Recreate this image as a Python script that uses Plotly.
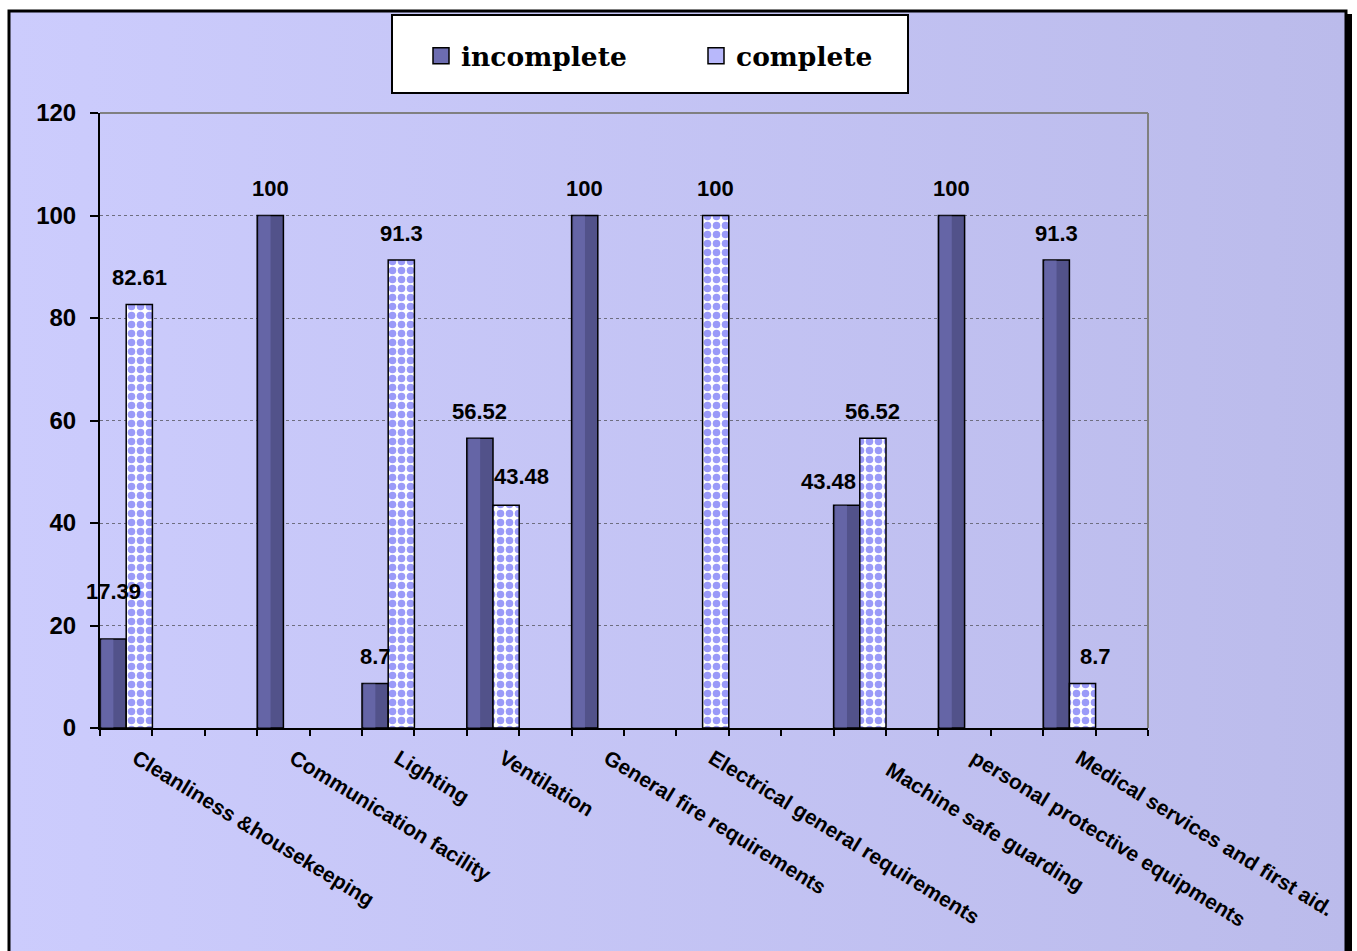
import base64
import plotly.graph_objects as go

# ---- data -------------------------------------------------------------
categories = [
    "Cleanliness &housekeeping",
    "Communication facility",
    "Lighting",
    "Ventilation",
    "General fire requirements",
    "Electrical general requirements",
    "Machine safe guarding",
    "personal protective equipments",
    "Medical services and first aid.",
]
incomplete = [17.39, 100, 8.7, 56.52, 100, 0, 43.48, 100, 91.3]
complete = [82.61, 0, 91.3, 43.48, 0, 100, 56.52, 0, 8.7]
y_ticks = [0, 20, 40, 60, 80, 100, 120]

# ---- layout helpers ---------------------------------------------------
W, H = 1357, 951
L, R, T, B = 100, 1148, 113, 728          # plot area edges in pixels
SLOTS = [0, 3, 5, 7, 9, 11, 14, 16, 18]   # slot of each category on the axis
N_SLOTS = 20
BAR_W = 0.5                                # each bar fills half a slot
LABEL_INDENT = {6: 4}                      # leading spaces before some axis labels


def px(x):
    return (x - L) / (R - L)


def py(y):
    return (B - y) / (B - T)


def nonzero(values):
    # zero-height bars are left out so they leave no outline on the axis
    return [v if v > 0 else None for v in values]


FONT = "Liberation Sans, Arial, sans-serif"
LEG_FONT = "DejaVu Serif, serif"
DARK = "#52528A"
CHECK = "#9A9AF8"

# value-label nudges (xshift, yshift) in pixels, keyed by (series, category)
NUDGE = {
    ("incomplete", 0): (0, 47),
    ("complete", 3): (15, 29),
    ("incomplete", 6): (-18, 24),
    ("complete", 8): (13, 27),
}

fig = go.Figure()

fig.add_trace(go.Bar(
    name="incomplete", showlegend=False,
    x=SLOTS, y=nonzero(incomplete), width=BAR_W, offset=-BAR_W,
    marker=dict(color=DARK, line=dict(color="black", width=1.5)),
))
# lighter sheen on the left part of each dark bar
fig.add_trace(go.Bar(
    name="incomplete", showlegend=False, hoverinfo="skip",
    x=SLOTS, y=nonzero(incomplete), width=BAR_W * 0.45, offset=-BAR_W + 0.03,
    marker=dict(color="rgba(150,150,240,0.28)", line=dict(width=0)),
))
fig.add_trace(go.Bar(
    name="complete", showlegend=False,
    x=SLOTS, y=nonzero(complete), width=BAR_W, offset=0,
    marker=dict(
        color="white",
        line=dict(color="black", width=1.5),
        pattern=dict(shape=".", fgcolor=CHECK, bgcolor="white",
                     size=9, solidity=0.55, fillmode="replace"),
    ),
))

# legend entries
fig.add_trace(go.Scatter(
    name="incomplete", x=[None], y=[None], mode="markers",
    marker=dict(symbol="square", size=16, color="#6C6CB0",
                line=dict(color="black", width=1.5)),
))
fig.add_trace(go.Scatter(
    name="complete", x=[None], y=[None], mode="markers",
    marker=dict(symbol="square", size=16, color="#B8B8FB",
                line=dict(color="black", width=1.5)),
))

# value labels
annotations = []
for name, values, dx in (("incomplete", incomplete, -0.25), ("complete", complete, 0.25)):
    for i, v in enumerate(values):
        if v <= 0:
            continue
        xs, ys = NUDGE.get((name, i), (0, 27))
        annotations.append(dict(
            x=SLOTS[i] + dx, y=v, xref="x", yref="y",
            text=f"{v:g}", showarrow=False,
            xanchor="center", yanchor="middle",
            xshift=xs, yshift=ys,
            font=dict(family=FONT, size=22, color="black", weight="bold"),
        ))

tick_text = ["\u00a0" * LABEL_INDENT.get(i, 0) + c for i, c in enumerate(categories)]

# background gradient of the chart area
svg = (
    '<svg xmlns="http://www.w3.org/2000/svg" width="200" height="100" '
    'viewBox="0 0 200 100" preserveAspectRatio="none">'
    '<defs><linearGradient id="g" x1="0" y1="0" x2="1" y2="0">'
    '<stop offset="0" stop-color="#CCCCFD"/>'
    '<stop offset="1" stop-color="#BBBBEB"/>'
    '</linearGradient></defs>'
    '<rect width="200" height="100" fill="url(#g)"/></svg>'
)
bg_src = "data:image/svg+xml;base64," + base64.b64encode(svg.encode()).decode()

shapes = [
    # plot-area border (top and right)
    dict(type="line", xref="paper", yref="paper", x0=0, x1=1, y0=1, y1=1,
         line=dict(color="#808080", width=2), layer="above"),
    dict(type="line", xref="paper", yref="paper", x0=1, x1=1, y0=0, y1=1,
         line=dict(color="#808080", width=2), layer="above"),
    # outer frame and its shadow
    dict(type="rect", xref="paper", yref="paper",
         x0=px(1347), x1=px(1352), y0=py(1000), y1=py(14),
         fillcolor="black", line=dict(width=0), layer="above"),
    dict(type="rect", xref="paper", yref="paper",
         x0=px(9), x1=px(1346), y0=py(1000), y1=py(11),
         line=dict(color="black", width=3), fillcolor="rgba(0,0,0,0)", layer="above"),
    # legend box
    dict(type="rect", xref="paper", yref="paper",
         x0=px(392), x1=px(908), y0=py(93), y1=py(15),
         line=dict(color="black", width=2), fillcolor="white", layer="above"),
]

fig.update_layout(
    width=W, height=H,
    margin=dict(l=L, r=W - R, t=T, b=H - B, pad=0),
    paper_bgcolor="white",
    plot_bgcolor="#CCCCFF",
    barmode="overlay",
    showlegend=True,
    legend=dict(
        orientation="h", x=px(421), y=py(56), xanchor="left", yanchor="middle",
        xref="paper", yref="paper",
        bgcolor="rgba(0,0,0,0)", borderwidth=0,
        entrywidth=230, entrywidthmode="pixels",
        itemsizing="trace",
        font=dict(family=LEG_FONT, size=26.5, color="black", weight="bold"),
    ),
    images=[dict(
        source=bg_src, xref="paper", yref="paper",
        x=px(9), y=py(11), sizex=px(1347) - px(9), sizey=py(11) - py(951),
        xanchor="left", yanchor="top", sizing="stretch", layer="below",
    )],
    shapes=shapes,
    annotations=annotations,
    xaxis=dict(
        range=[-0.5, N_SLOTS - 0.5],
        tickmode="array", tickvals=SLOTS, ticktext=tick_text,
        ticks="", tickangle=31.5,
        ticklabelshift=10, ticklabelstandoff=8,
        tickfont=dict(family=FONT, size=21, color="black", weight="bold"),
        showline=True, linecolor="black", linewidth=2,
        showgrid=False, zeroline=False,
        minor=dict(tickmode="array", tickvals=[k - 0.5 for k in range(N_SLOTS + 1)],
                   ticks="outside", ticklen=6, tickcolor="black", tickwidth=1.5,
                   showgrid=False),
    ),
    yaxis=dict(
        range=[0, 120], tickmode="array", tickvals=y_ticks,
        ticks="outside", ticklen=8, tickcolor="black", tickwidth=1.5,
        ticklabelstandoff=9,
        tickfont=dict(family=FONT, size=24, color="black", weight="bold"),
        showline=True, linecolor="black", linewidth=2,
        showgrid=True, gridcolor="#6E6E80", griddash="dot", gridwidth=1,
        zeroline=False,
    ),
)

fig.write_html("out.html")
